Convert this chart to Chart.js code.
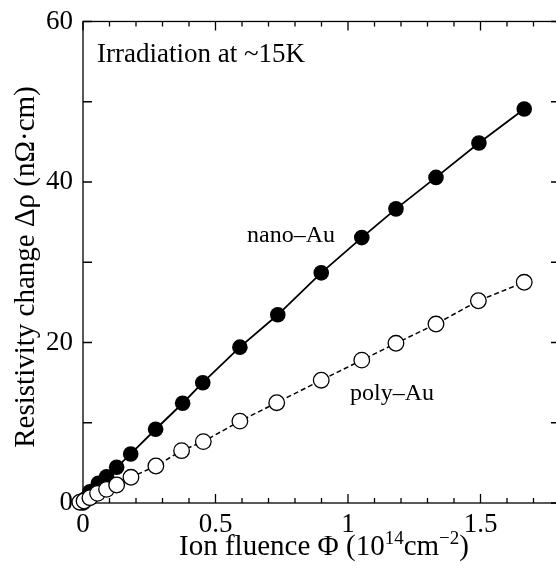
<!DOCTYPE html>
<html>
<head>
<meta charset="utf-8">
<script src="https://cdn.jsdelivr.net/npm/chart.js@4.4.1/dist/chart.umd.min.js"></script>
<style>
  html, body { margin: 0; padding: 0; background: #fff; overflow: hidden; }
  #wrap { width: 566px; height: 576px; }
</style>
</head>
<body>
<div id="wrap"><canvas id="myChart" width="566" height="576"></canvas></div>
<script>
// ion fluence (10^14 cm^-2) and resistivity change (nOhm cm)
const nanoFluence = [0.0, 0.008, 0.026, 0.058, 0.089, 0.127, 0.180, 0.274, 0.376, 0.452, 0.592, 0.735, 0.899, 1.052, 1.181, 1.332, 1.494, 1.665];
const nanoRho     = [0.0, 0.5, 1.4, 2.45, 3.28, 4.45, 6.11, 9.19, 12.43, 14.99, 19.42, 23.45, 28.68, 33.07, 36.65, 40.57, 44.85, 49.09];

const polyFluence = [-0.03, -0.012, 0.004, 0.026, 0.055, 0.089, 0.127, 0.181, 0.275, 0.372, 0.454, 0.592, 0.731, 0.899, 1.052, 1.181, 1.332, 1.492, 1.665];
const polyRho     = [0.0, 0.1, 0.25, 0.66, 1.2, 1.7, 2.24, 3.2, 4.61, 6.52, 7.65, 10.2, 12.5, 15.3, 17.8, 19.9, 22.3, 25.2, 27.5];

const xTickLabels = [0, 0.5, 1, 1.5];
const yTickLabels = [0, 20, 40, 60];

const serif = '"Liberation Serif", "Times New Roman", serif';

const toPoints = (xs, ys) => xs.map((x, i) => ({ x: x, y: ys[i] }));

// frame with inward ticks on all four sides + texts
const frame = {
  id: 'frame',
  beforeDatasetsDraw(chart) {
    const { ctx, chartArea: a, scales: { x, y } } = chart;
    ctx.save();
    ctx.strokeStyle = '#000';
    ctx.lineWidth = 1.3;
    ctx.strokeRect(a.left, a.top, a.right - a.left, a.bottom - a.top);
    ctx.beginPath();
    for (let i = 0; i <= 18; i++) {
      const px = x.getPixelForValue(i / 10);
      const len = i % 5 === 0 ? 9 : 5;
      ctx.moveTo(px, a.bottom); ctx.lineTo(px, a.bottom - len);
      ctx.moveTo(px, a.top); ctx.lineTo(px, a.top + len);
    }
    for (let v = 0; v <= 60; v += 10) {
      const py = y.getPixelForValue(v);
      ctx.moveTo(a.left, py); ctx.lineTo(a.left + 9, py);
      ctx.moveTo(a.right, py); ctx.lineTo(a.right - 9, py);
    }
    ctx.stroke();
    ctx.restore();
  },
  afterDraw(chart) {
    const { ctx, chartArea: a, scales: { x, y } } = chart;
    ctx.save();
    ctx.fillStyle = '#000';
    ctx.textBaseline = 'alphabetic';
    ctx.textAlign = 'left';

    ctx.font = '27px ' + serif;
    ctx.fillText('Irradiation at ~15K', x.getPixelForValue(0.053), y.getPixelForValue(54.9));
    ctx.font = '24px ' + serif;
    ctx.fillText('nano\u2013Au', x.getPixelForValue(0.619), y.getPixelForValue(32.5));
    ctx.fillText('poly\u2013Au', x.getPixelForValue(1.008), y.getPixelForValue(12.8));

    // x title with superscripts
    const parts = [
      ['Ion fluence \u03A6 (10', false],
      ['14', true],
      ['cm', false],
      ['\u22122', true],
      [')', false]
    ];
    const big = '29px ' + serif, small = '19px ' + serif;
    let w = 0;
    parts.forEach(p => { ctx.font = p[1] ? small : big; w += ctx.measureText(p[0]).width; });
    let cx = 324 - w / 2;
    const base = 555;
    parts.forEach(p => {
      ctx.font = p[1] ? small : big;
      ctx.fillText(p[0], cx, p[1] ? base - 11 : base);
      cx += ctx.measureText(p[0]).width;
    });

    // y title
    ctx.translate(34, 267);
    ctx.rotate(-Math.PI / 2);
    ctx.textAlign = 'center';
    ctx.font = '29px ' + serif;
    ctx.fillText('Resistivity change \u0394\u03C1 (n\u03A9\u00B7cm)', 0, 0);
    ctx.restore();
  }
};

const ctx = document.getElementById('myChart');

new Chart(ctx, {
  type: 'line',
  data: {
    datasets: [
      {
        label: 'poly-Au',
        data: toPoints(polyFluence, polyRho),
        borderColor: '#000',
        borderWidth: 1.5,
        borderDash: [5, 3],
        backgroundColor: '#fff',
        pointBackgroundColor: '#fff',
        pointBorderColor: '#000',
        pointBorderWidth: 1.3,
        pointRadius: 7.8,
        tension: 0,
        clip: false
      },
      {
        label: 'nano-Au',
        data: toPoints(nanoFluence, nanoRho),
        borderColor: '#000',
        borderWidth: 1.8,
        backgroundColor: '#000',
        pointBackgroundColor: '#000',
        pointBorderColor: '#000',
        pointBorderWidth: 0,
        pointRadius: 7.8,
        tension: 0,
        clip: false
      }
    ]
  },
  options: {
    responsive: false,
    animation: false,
    events: [],
    layout: { autoPadding: false, padding: { left: 0, top: 21, right: 2, bottom: 0 } },
    plugins: {
      legend: { display: false },
      tooltip: { enabled: false }
    },
    scales: {
      x: {
        type: 'linear',
        min: 0,
        max: 1.8,
        grid: { display: false, drawTicks: false },
        border: { display: false },
        afterFit(scale) { scale.height = 73; },
        ticks: {
          stepSize: 0.5,
          autoSkip: false,
          maxRotation: 0,
          padding: 6,
          color: '#000',
          font: { family: serif, size: 27 },
          callback: v => xTickLabels.some(t => Math.abs(t - v) < 1e-6) ? String(v) : ''
        }
      },
      y: {
        type: 'linear',
        min: 0,
        max: 60,
        grid: { display: false, drawTicks: false },
        border: { display: false },
        afterFit(scale) { scale.width = 83; },
        ticks: {
          stepSize: 20,
          padding: 10,
          color: '#000',
          font: { family: serif, size: 27, lineHeight: 0.85 },
          callback: v => yTickLabels.includes(v) ? String(v) : ''
        }
      }
    }
  },
  plugins: [frame]
});
</script>
</body>
</html>
